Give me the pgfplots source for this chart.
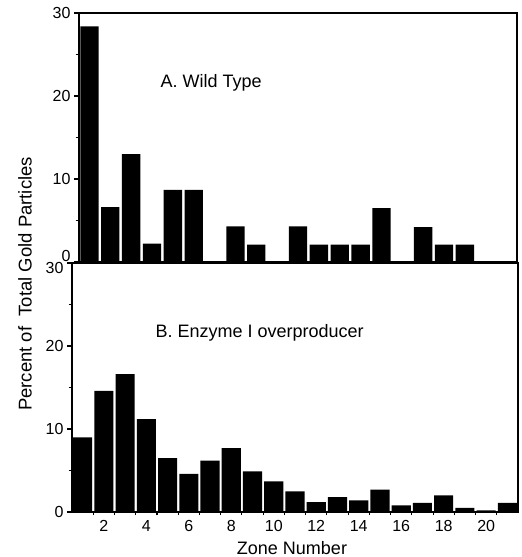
\documentclass[border=0pt]{standalone}
\usepackage{fontspec}
\setmainfont{Liberation Sans}
\usepackage{pgfplots}
\pgfplotsset{compat=1.18}

\pgfplotsset{
  panel/.style={
    scale only axis,
    ybar, bar shift=0pt,
    xmin=0.5, xmax=21.5, ymin=0, ymax=30,
    minor ytick={5,15,25},
    minor xtick={1.5,2.5,...,20.5},
    tick align=outside, xtick pos=bottom, ytick pos=left,
    major tick length=5pt, minor tick length=3.5pt,
    axis line style={line width=1.3pt},
    tick style={line width=1.1pt, black},
    ticklabel style={font=\fontsize{16}{16}\selectfont},
    /pgf/number format/assume math mode=true,
  }
}

\begin{document}
\begin{tikzpicture}
\path[use as bounding box] (0pt,0pt) rectangle (522pt,557pt);

% A. Wild type
\begin{axis}[panel, at={(79pt,295pt)}, anchor=south west,
  width=438pt, height=249pt, bar width=0.88, xtick=\empty,
  ytick={10,20,30}, extra y ticks={0},
  extra y tick style={yticklabel style={yshift=6pt}}]
\addplot[fill=black, draw=none] coordinates {
  (1,28.4) (2,6.6) (3,13.0) (4,2.2) (5,8.7) (6,8.7) (7,0)
  (8,4.3) (9,2.1) (10,0) (11,4.3) (12,2.1) (13,2.1) (14,2.1)
  (15,6.5) (16,0) (17,4.2) (18,2.1) (19,2.1) (20,0) (21,0)};
\end{axis}

% B. Enzyme I overproducer
\begin{axis}[panel, at={(72pt,45pt)}, anchor=south west,
  width=446pt, height=249pt, bar width=0.9,
  ytick={0,10,20}, extra y ticks={30},
  extra y tick style={yticklabel style={yshift=-5pt}},
  xtick={2,4,...,20}, major x tick style={draw=none}]
\addplot[fill=black, draw=none] coordinates {
  (1,9.0) (2,14.6) (3,16.6) (4,11.2) (5,6.5) (6,4.6) (7,6.2)
  (8,7.7) (9,4.9) (10,3.7) (11,2.5) (12,1.2) (13,1.8) (14,1.4)
  (15,2.7) (16,0.8) (17,1.1) (18,2.0) (19,0.5) (20,0.2) (21,1.1)};
\end{axis}

\node[font=\fontsize{18}{18}\selectfont, anchor=west] at (157pt,474pt) {A. Wild Type};
\node[font=\fontsize{18}{18}\selectfont, anchor=west] at (152pt,224pt) {B. Enzyme I overproducer};
\node[font=\fontsize{18.5}{18.5}\selectfont, rotate=90] at (25pt,273pt) {Percent of \ Total Gold Particles};
\node[font=\fontsize{18}{18}\selectfont] at (292pt,9pt) {Zone Number};
\end{tikzpicture}
\end{document}
